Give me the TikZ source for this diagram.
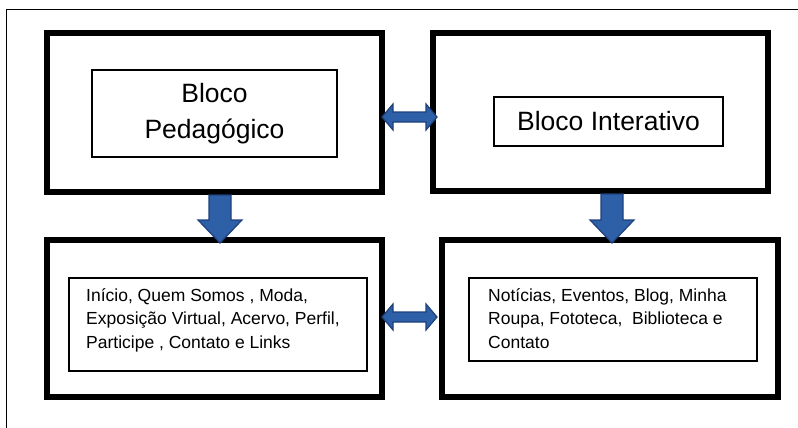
\documentclass[tikz,border=0pt]{standalone}
\usepackage{fontspec}
\setmainfont{Liberation Sans}
\usetikzlibrary{calc}

\definecolor{arrowfill}{RGB}{46,96,168}
\definecolor{arrowedge}{RGB}{30,64,124}

% Block arrow with one head, from #1 to #2 (shaft half-width 11, head half-width 22, head length 23)
\newcommand\blockarrowone[2]{%
  \coordinate (ba-q) at ($(#2)!23pt!(#1)$);
  \filldraw[arrowstyle]
    ($(#1)!11pt!90:(#2)$) -- ($(ba-q)!11pt!-90:(#1)$) -- ($(ba-q)!22pt!-90:(#1)$) -- (#2)
    -- ($(ba-q)!22pt!90:(#1)$) -- ($(ba-q)!11pt!90:(#1)$) -- ($(#1)!11pt!-90:(#2)$) -- cycle;
}
% Block arrow with a head at each end, between #1 and #2
\newcommand\blockarrowtwo[2]{%
  \coordinate (ba-p) at ($(#1)!11pt!(#2)$);
  \coordinate (ba-q) at ($(#2)!11pt!(#1)$);
  \filldraw[arrowstyle]
    (#1) -- ($(ba-p)!13pt!90:(#2)$) -- ($(ba-p)!5pt!90:(#2)$) -- ($(ba-q)!5pt!-90:(#1)$)
    -- ($(ba-q)!13pt!-90:(#1)$) -- (#2) -- ($(ba-q)!13pt!90:(#1)$) -- ($(ba-q)!5pt!90:(#1)$)
    -- ($(ba-p)!5pt!-90:(#2)$) -- ($(ba-p)!13pt!-90:(#2)$) -- cycle;
}

\begin{document}
\begin{tikzpicture}[x=1pt,y=-1pt,
  frame/.style={line width=1.5pt},
  outerbox/.style={draw, line width=6pt, inner sep=0pt, outer sep=0pt},
  innerbox/.style={draw, line width=1.8pt, inner sep=0pt, outer sep=0pt, align=center,
                   font=\fontsize{26.5}{36}\selectfont},
  listtext/.style={inner sep=0pt, anchor=north west, align=left,
                   font=\fontsize{17.5}{23.5}\selectfont},
  arrowstyle/.style={fill=arrowfill, draw=arrowedge, line width=1.2pt, line join=miter}]

\useasboundingbox (0,0) rectangle (798,428);

% page frame (its right and bottom sides lie outside the page)
\draw[frame] (6.5,428) |- (798,9.5);

% the four blocks
\node[outerbox, minimum width=335pt, minimum height=159pt] (tl) at (214.5,112.5) {};
\node[outerbox, minimum width=335pt, minimum height=158pt] (tr) at (600.5,112) {};
\node[outerbox, minimum width=335pt, minimum height=157pt] (bl) at (214.5,318.5) {};
\node[outerbox, minimum width=336pt, minimum height=157pt] (br) at (610,318.5) {};

% titles
\node[innerbox, minimum width=245pt, minimum height=87pt] (tlin) at (214.5,113.5) {Bloco\\Pedagógico};
\node[innerbox, minimum width=229pt, minimum height=49pt] (trin) at (608.5,121.5) {Bloco Interativo};

% contents
\node[innerbox, minimum width=298pt, minimum height=93pt] (blin) at (218,324.5) {};
\node[innerbox, minimum width=288pt, minimum height=83pt] (brin) at (613,319.5) {};
\node[listtext] (bltext) at ($(blin.north west)+(17,10)$)
  {Início, Quem Somos , Moda,\\Exposição Virtual, Acervo, Perfil,\\Participe , Contato e Links};
\node[listtext] (brtext) at ($(brin.north west)+(19,10)$)
  {Notícias, Eventos, Blog, Minha\\Roupa, Fototeca,\ \ Biblioteca e\\Contato};

% arrow end points on the block borders
\coordinate (d1s) at ($(tl.south)+(5.5,3)$);
\coordinate (d1e) at ($(bl.north)+(5.5,3)$);
\coordinate (d2s) at ($(tr.south)+(11.5,3)$);
\coordinate (d2e) at ($(br.north)+(2,3)$);
\coordinate (h1s) at ($(tl.east)+(0,4.5)$);
\coordinate (h1e) at ($(tr.west)+(4,5)$);
\coordinate (h2s) at ($(bl.east)+(0,-1.5)$);
\coordinate (h2e) at ($(br.west)+(-5,-1.5)$);

\blockarrowone{d1s}{d1e}
\blockarrowone{d2s}{d2e}
\blockarrowtwo{h1s}{h1e}
\blockarrowtwo{h2s}{h2e}

\end{tikzpicture}
\end{document}
